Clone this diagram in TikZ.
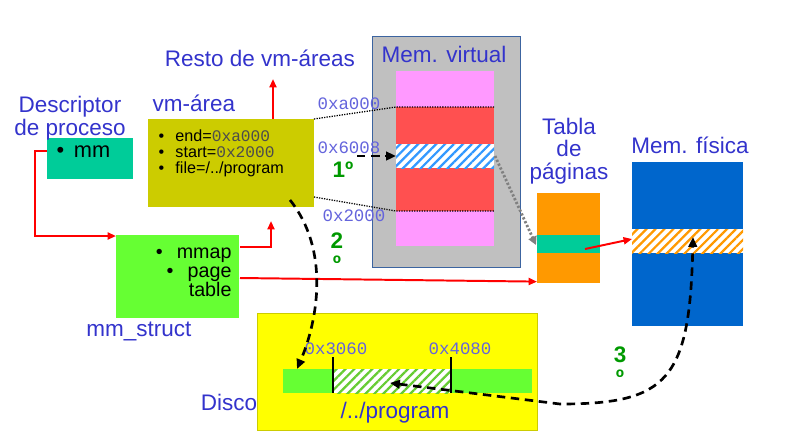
\documentclass[tikz,border=0pt]{standalone}
\usepackage{fontspec}
\setmainfont{Liberation Sans}
\setmonofont{Liberation Mono}
\usetikzlibrary{arrows.meta, patterns.meta}

\definecolor{lblblue}{HTML}{3333CC}
\definecolor{adrblue}{HTML}{6464DC}
\definecolor{numgreen}{HTML}{009900}
\definecolor{descgreen}{HTML}{00CC99}
\definecolor{vmolive}{HTML}{CCCC00}
\definecolor{mmgreen}{HTML}{66FF33}
\definecolor{vmgray}{HTML}{C0C0C0}
\definecolor{vmframe}{HTML}{3C64A0}
\definecolor{vmpink}{HTML}{FF99FF}
\definecolor{vmred}{HTML}{FF5050}
\definecolor{hatchblue}{HTML}{3399FF}
\definecolor{ptorange}{HTML}{FF9900}
\definecolor{fisblue}{HTML}{0066CC}
\definecolor{diskyellow}{HTML}{FFFF00}
\definecolor{hatchgreen}{HTML}{66CC33}

\tikzset{
  box/.style={inner sep=0pt, outer sep=0pt},
  lbl/.style={text=lblblue, font=\fontsize{16}{14.5}\selectfont, inner sep=0pt, align=center},
  adr/.style={text=adrblue, font=\fontsize{12.4}{14}\selectfont\ttfamily, inner sep=0pt},
  num/.style={text=numgreen, font=\fontsize{16}{16}\selectfont\bfseries, inner sep=0pt, align=center},
  redarr/.style={draw=red, line width=1.4pt, -{Triangle[length=6pt,width=5pt]}},
  dasharr/.style={draw=black, line width=1.9pt, dash pattern=on 6pt off 4pt, -{Triangle[length=7pt,width=6pt]}},
  dotline/.style={draw=black, line width=0.9pt, dash pattern=on 0.9pt off 0.9pt},
  hatch/.style={pattern={Lines[angle=45,distance=4.5pt,line width=1.6pt]}},
}

\begin{document}
\begin{tikzpicture}[x=0.025cm, y=-0.025cm, line width=0.75pt]
\useasboundingbox (0,0) rectangle (802,437);

% boxes
\node[box, fill=descgreen, minimum width=2.15cm, minimum height=1.025cm] (desc) at (90,158.5) {};
\node[box, fill=vmolive, minimum width=4.15cm, minimum height=2.2cm] (vma) at (231,163) {};
\node[box, fill=mmgreen, minimum width=3.075cm, minimum height=2.075cm] (mms) at (177.5,276.5) {};
\node[box, fill=vmgray, draw=vmframe, line width=0.7pt, minimum width=3.675cm, minimum height=5.75cm] (vmem) at (446.5,152) {};
\node[box, fill=ptorange, minimum width=1.575cm, minimum height=2.25cm] (tabla) at (568.5,238) {};
\node[box, fill=fisblue, minimum width=2.775cm, minimum height=4.1cm] (fis) at (687.5,244) {};
\node[box, fill=diskyellow, draw=vmolive, line width=0.7pt, minimum width=6.975cm, minimum height=2.925cm] (disk) at (397.5,371.5) {};

% virtual memory column
\fill[vmpink] (396,71) rectangle (494,246);
\fill[vmred] (396,107) rectangle (494,211);
\fill[white] (396,144) rectangle (494,168);
\fill[hatch, pattern color=hatchblue] (396,144) rectangle (494,168);

% page table entry and physical frame
\fill[descgreen] (537,235) rectangle (600,253);
\fill[white] (632,229) rectangle (743,253);
\fill[hatch, pattern color=ptorange] (632,229) rectangle (743,253);

% file on disk
\fill[mmgreen] (283,369) rectangle (532,393);
\fill[white] (333,369) rectangle (451,393);
\fill[hatch, pattern color=hatchgreen] (333,369) rectangle (451,393);
\draw (333,357) -- (333,393);
\draw (451,357) -- (451,393);

% labels
\node[lbl] (ldesc) at (70,118) {Descriptor\\de proceso};
\node[lbl] (lvma) at (194,103) {vm-área};
\node[lbl] (resto) at (260,58) {Resto de vm-áreas};
\node[lbl] (lvmem) at (444,54) {Mem. virtual};
\node[lbl, font=\fontsize{16}{16}\selectfont] (ltabla) at (569,151) {Tabla\\de\\páginas};
\node[lbl] (lfis) at (690,145) {Mem. física};
\node[lbl] (lmms) at (139,331) {mm\_struct};
\node[lbl] (ldisco) at (229,402) {Disco};
\node[lbl] (lprog) at (395,413) {/../program};

% texts in boxes
\node[anchor=west, inner sep=0pt, font=\fontsize{15.5}{17}\selectfont] (tmm) at (56,152) {•\hspace{7pt}mm};
\node[anchor=north west, inner sep=0pt, align=left, font=\fontsize{11.5}{11.5}\selectfont] (tvma) at (158,129)
  {•\hspace{8pt}end={\color{black!70}\ttfamily 0xa000}\\
   •\hspace{8pt}start={\color{black!70}\ttfamily 0x2000}\\
   •\hspace{8pt}file=/../program};
\node[anchor=east, inner sep=0pt, align=right, font=\fontsize{14}{13.5}\selectfont] (tmms) at (232,272)
  {•\hspace{10pt}mmap\\•\hspace{10pt}page\\table};

% addresses
\node[adr] (a1) at (349,104) {0xa000};
\node[adr] (a2) at (349,148) {0x6008};
\node[adr] (a3) at (354,216) {0x2000};
\node[adr] (a4) at (336,349) {0x3060};
\node[adr] (a5) at (460,349) {0x4080};

% steps
\node[num] (n1) at (343,170) {1º};
\node[num] (n2) at (337,252) {2\\º};
\node[num] (n3) at (620,366) {3\\º};

% connector ends
\coordinate (descbul) at (47,151);
\coordinate (mmsin) at (116,236);
\coordinate (mmapout) at (240,247);
\coordinate (vmain) at (271,221);
\coordinate (vmatop) at (273,119);
\coordinate (restoin) at (273,79);
\coordinate (pageout) at (240,278);
\coordinate (pteout) at (585,249);
\coordinate (frame) at (632,239);
\coordinate (vmabot) at (314,197);
\coordinate (redtop) at (396,107);
\coordinate (redtopr) at (494,107);
\coordinate (redbot) at (396,211);
\coordinate (redbotr) at (494,211);
\coordinate (onestart) at (357,156);
\coordinate (pagein) at (396,156);
\coordinate (pageoutr) at (495,156);
\coordinate (ptein) at (536,245);
\coordinate (twostart) at (290,200);
\coordinate (twoend) at (297,369);
\coordinate (frameup) at (693,237);
\coordinate (bend) at (560,404);
\coordinate (blockin) at (390,383);

% red links
\draw[redarr] (descbul) -- ++(-12,0) |- (mmsin);
\draw[redarr] (mmapout) -| (vmain);
\draw[redarr] (vmatop) -- (restoin);
\draw[redarr] (pageout) -- ([yshift=1pt]tabla.south west);
\draw[redarr] (pteout) -- (frame);

% vm-area bounds
\draw[dotline] (vma.north east) -- (redtop) -- (redtopr);
\draw[dotline] (vmabot) -- (redbot) -- (redbotr);

% page fault steps
\draw[dasharr] (onestart) -- (pagein);
\draw[draw=gray, line width=2pt, dash pattern=on 1.6pt off 1.4pt, -{Triangle[length=6pt,width=6pt]}] (pageoutr) -- (ptein);
\draw[dasharr] (twostart) .. controls (330,250) and (318,320) .. (twoend);
\draw[dasharr, {Triangle[length=7pt,width=6pt]}-{Triangle[length=7pt,width=6pt]}] (blockin) -- (bend) .. controls (668,404) and (690,380) .. (frameup);
\end{tikzpicture}
\end{document}
